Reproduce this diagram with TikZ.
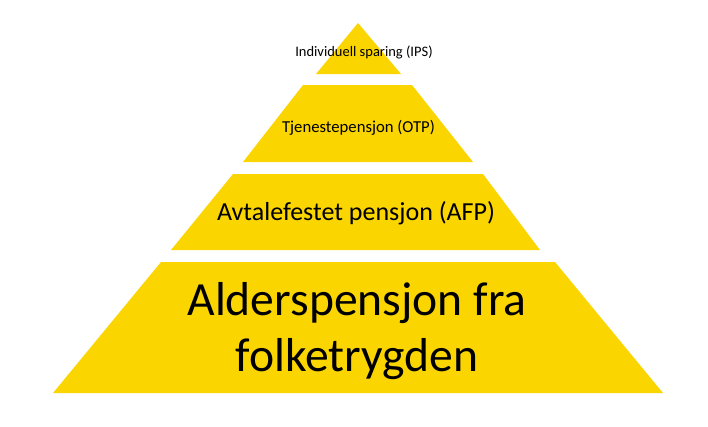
\documentclass[tikz,border=0pt]{standalone}
\usepackage{fontspec}
\setmainfont{Carlito}
\definecolor{pyr}{RGB}{251,213,0}
\begin{document}
\begin{tikzpicture}[x=1pt,y=-1pt,
  layer/.style={fill=pyr,draw=none},
  lbl/.style={anchor=base,inner sep=0pt,text=black}]
\useasboundingbox (0,0) rectangle (708,426);
% layers
\path[layer] (358,23) -- (401,74) -- (316,74) -- cycle;
\path[layer] (303,85) -- (412,85) -- (473,162) -- (243,162) -- cycle;
\path[layer] (233,174) -- (483,174) -- (540,250) -- (171,250) -- cycle;
\path[layer] (161,262) -- (555,262) -- (663,393) -- (53,393) -- cycle;
% labels
\node[lbl,font=\fontsize{14.5}{17}\selectfont] (ips) at (364,56) {Individuell sparing (IPS)};
\node[lbl,font=\fontsize{16.7}{19}\selectfont] (otp) at (358.5,132) {Tjenestepensjon (OTP)};
\node[lbl,font=\fontsize{26}{30}\selectfont] (afp) at (356,220) {Avtalefestet pensjon (AFP)};
\node[lbl,font=\fontsize{47.6}{55}\selectfont] (ap1) at (357,315) {Alderspensjon fra};
\node[lbl,font=\fontsize{47.6}{55}\selectfont] (ap2) at (357,371) {folketrygden};
\end{tikzpicture}
\end{document}
